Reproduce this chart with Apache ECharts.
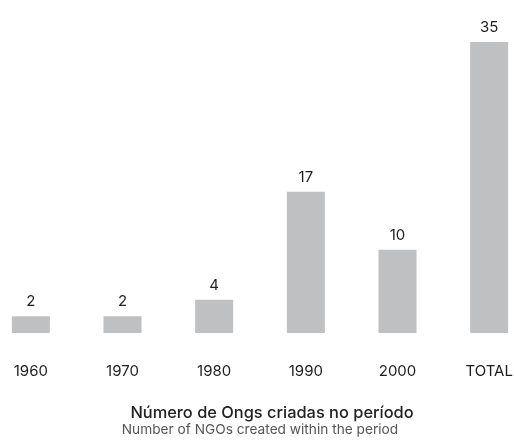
<!DOCTYPE html>
<html>
<head>
<meta charset="utf-8">
<script src="https://cdn.jsdelivr.net/npm/echarts@6/dist/echarts.min.js"></script>
<style>
  * { margin: 0; padding: 0; }
  body { width: 514px; height: 442px; overflow: hidden; position: relative; background: #ffffff; }
  /* o grafico original esta cortado nas bordas, por isso o canvas e mais largo */
  #chart { position: absolute; left: -15px; top: 0; width: 550px; height: 442px; }
</style>
</head>
<body>
<div id="chart"></div>
<script>
// periodos e numero de ongs
const categories = ['1960', '1970', '1980', '1990', '2000', 'TOTAL'];
const ngoCounts = [2, 2, 4, 17, 10, 35];
const titlePt = 'Número de Ongs criadas no período';
const titleEn = 'Number of NGOs created within the period';

const chart = echarts.init(document.getElementById('chart'));

const option = {
    backgroundColor: '#ffffff',
    animation: false,
    title: [
        {
            text: titlePt,
            left: 282,
            top: 400,
            textAlign: 'center',
            textStyle: { fontFamily: 'Inter', fontSize: 16.4, fontWeight: 500, color: '#222222' }
        },
        {
            text: titleEn,
            left: 270,
            top: 418,
            textAlign: 'center',
            textStyle: { fontFamily: 'Inter', fontSize: 13.7, fontWeight: 'normal', color: '#555555' }
        }
    ],
    grid: {
        left: 0,
        right: 0,
        top: 42,
        bottom: 109
    },
    xAxis: {
        type: 'category',
        data: categories,
        axisLine: { show: false },
        axisTick: { show: false },
        axisLabel: {
            margin: 31,
            fontFamily: 'Inter',
            fontSize: 15,
            color: '#1e1e1e'
        }
    },
    yAxis: {
        type: 'value',
        min: 0,
        max: 35,
        show: false
    },
    series: [{
        type: 'bar',
        data: ngoCounts,
        barWidth: 38,
        itemStyle: { color: '#bfc0c2' },
        label: {
            show: true,
            position: 'top',
            distance: 7,
            fontFamily: 'Inter',
            fontSize: 15,
            color: '#1e1e1e'
        }
    }]
};

chart.setOption(option);
</script>
</body>
</html>
